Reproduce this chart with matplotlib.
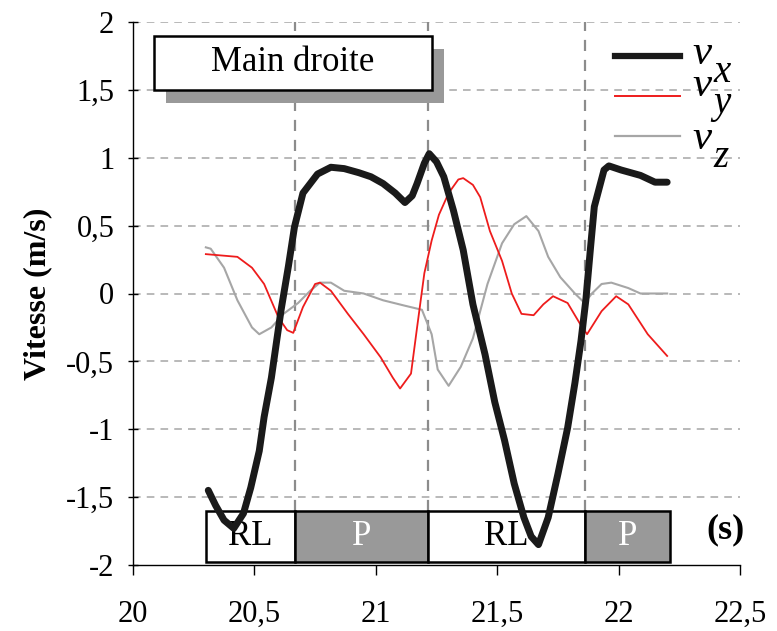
import matplotlib
matplotlib.use("Agg")
import matplotlib.pyplot as plt
from matplotlib.patches import Rectangle

plt.rcParams.update({
    "font.family": ["Liberation Serif", "DejaVu Serif"],
    "font.size": 22,
})

# ---- data ----
vx_t = [20.31, 20.34, 20.375, 20.415, 20.455, 20.485, 20.52, 20.54, 20.57, 20.59,
        20.61, 20.64, 20.665, 20.70, 20.76, 20.815, 20.87, 20.93, 20.98, 21.03,
        21.08, 21.12, 21.15, 21.17, 21.20, 21.22, 21.25, 21.28, 21.32, 21.36,
        21.40, 21.45, 21.49, 21.53, 21.57, 21.61, 21.64, 21.67, 21.71, 21.75,
        21.79, 21.82, 21.845, 21.865, 21.885, 21.90, 21.94, 21.96, 22.01, 22.09,
        22.15, 22.20]
vx = [-1.45, -1.56, -1.67, -1.73, -1.62, -1.43, -1.16, -0.91, -0.62, -0.37,
      -0.12, 0.20, 0.49, 0.74, 0.88, 0.93, 0.92, 0.89, 0.86, 0.81,
      0.74, 0.67, 0.72, 0.81, 0.96, 1.03, 0.97, 0.86, 0.61, 0.32,
      -0.08, -0.45, -0.80, -1.08, -1.40, -1.65, -1.79, -1.85, -1.65, -1.33,
      -0.99, -0.66, -0.35, -0.05, 0.35, 0.64, 0.91, 0.94, 0.91, 0.87,
      0.82, 0.82]

vy_t = [20.30, 20.43, 20.49, 20.54, 20.60, 20.635, 20.66, 20.70, 20.75, 20.77,
        20.815, 20.885, 20.95, 21.02, 21.07, 21.10, 21.145, 21.17, 21.20, 21.23,
        21.26, 21.30, 21.34, 21.36, 21.40, 21.43, 21.47, 21.52, 21.56, 21.60,
        21.65, 21.69, 21.73, 21.79, 21.84, 21.87, 21.93, 21.99, 22.04, 22.12,
        22.20]
vy = [0.29, 0.27, 0.19, 0.07, -0.18, -0.27, -0.29, -0.10, 0.07, 0.08,
      0.02, -0.15, -0.30, -0.47, -0.62, -0.70, -0.59, -0.25, 0.15, 0.39,
      0.58, 0.74, 0.84, 0.85, 0.80, 0.71, 0.46, 0.24, 0.00, -0.15,
      -0.16, -0.08, -0.02, -0.07, -0.22, -0.30, -0.13, -0.02, -0.08, -0.30,
      -0.46]

vz_t = [20.30, 20.32, 20.375, 20.43, 20.49, 20.52, 20.57, 20.62, 20.68, 20.73,
        20.77, 20.815, 20.87, 20.95, 21.03, 21.12, 21.19, 21.23, 21.255, 21.30,
        21.35, 21.40, 21.46, 21.52, 21.57, 21.62, 21.67, 21.71, 21.76, 21.82,
        21.86, 21.89, 21.93, 21.97, 22.04, 22.09, 22.20]
vz = [0.34, 0.33, 0.19, -0.05, -0.25, -0.30, -0.25, -0.15, -0.07, 0.02,
      0.08, 0.08, 0.02, 0.00, -0.05, -0.09, -0.12, -0.30, -0.56, -0.68,
      -0.54, -0.33, 0.07, 0.37, 0.51, 0.57, 0.46, 0.27, 0.12, 0.00,
      -0.07, 0.00, 0.07, 0.08, 0.04, 0.00, 0.00]

phase_edges = [20.30, 20.667, 21.215, 21.862, 22.212]
phase_labels = ["RL", "P", "RL", "P"]

yticks = [-2, -1.5, -1, -0.5, 0, 0.5, 1, 1.5, 2]
xticks = [20, 20.5, 21, 21.5, 22, 22.5]


def fr(v):
    # French decimal comma
    return ("%g" % v).replace(".", ",")


W, H = 777, 631
fig = plt.figure(figsize=(W / 100, H / 100), dpi=100)
ax = fig.add_axes([133 / W, 1 - 565 / H, (740 - 133) / W, (565 - 22) / H])

ax.set_xlim(20, 22.5)
ax.set_ylim(-2, 2)
for s in ("top", "right"):
    ax.spines[s].set_visible(False)
ax.spines["left"].set_linewidth(1.0)
ax.spines["bottom"].set_linewidth(1.0)

ax.set_yticks(yticks)
ax.set_yticklabels([fr(v) for v in yticks])
ax.set_xticks(xticks)
ax.set_xticklabels([fr(v) for v in xticks])
ax.tick_params(axis="y", direction="inout", length=7, width=1, pad=10, labelsize=22)
ax.tick_params(axis="x", direction="out", length=7, width=1, pad=18, labelsize=22)
ax.set_ylabel("Vitesse (m/s)", fontweight="bold", fontsize=23, labelpad=10)

# grid
dash = (0, (5, 4))
for yv in yticks[1:]:
    ax.axhline(yv, color="#a6a6a6", lw=1.1, ls=dash, zorder=1)
for xv in phase_edges[1:-1]:
    ax.plot([xv, xv], [-1.6, 2], color="#8c8c8c", lw=1.6, ls=dash, zorder=1)

# phase bar
for i, lab in enumerate(phase_labels):
    x0, x1 = phase_edges[i], phase_edges[i + 1]
    fc = "white" if lab == "RL" else "#999999"
    tc = "black" if lab == "RL" else "white"
    ax.add_patch(Rectangle((x0, -1.975), x1 - x0, 0.375, facecolor=fc,
                           edgecolor="black", lw=1.8, zorder=3))
    ax.text((x0 + x1) / 2, -1.79, lab, color=tc, fontsize=25,
            ha="center", va="center", zorder=4)
ax.text(22.44, -1.74, "(s)", fontsize=26, fontweight="bold",
        ha="center", va="center")

# title box with shadow
ax.add_patch(Rectangle((20.136, 1.40), 1.145, 0.40, facecolor="#999999",
                       edgecolor="none", zorder=3))
ax.add_patch(Rectangle((20.086, 1.496), 1.145, 0.40, facecolor="white",
                       edgecolor="black", lw=1.8, zorder=4))
ax.text(20.658, 1.70, "Main droite", fontsize=25, ha="center", va="center",
        zorder=5)

# curves
ax.plot(vz_t, vz, color="#a6a6a6", lw=1.5, zorder=5)
ax.plot(vy_t, vy, color="#ee1c1c", lw=1.3, zorder=6)
ax.plot(vx_t, vx, color="#1a1a1a", lw=5, solid_capstyle="round",
        solid_joinstyle="round", zorder=7)

# legend drawn by hand: (colour, width, line y px, v baseline px, subscript baseline px, subscript)
leg = [("#1a1a1a", 4.5, 56, 64, 82, "x"),
       ("#ee1c1c", 1.4, 96, 96, 113, "y"),
       ("#a6a6a6", 1.6, 136, 149, 167, "z")]
for col, lw, py, vb, sb, sub in leg:
    fig.add_artist(plt.Line2D([615 / W, 680 / W], [1 - py / H, 1 - py / H],
                              color=col, lw=lw))
    fig.text(692 / W, 1 - vb / H, "v", fontsize=31, style="italic",
             ha="left", va="baseline")
    fig.text(713 / W, 1 - sb / H, sub, fontsize=28, style="italic",
             ha="left", va="baseline")

fig.savefig("out.png", dpi=100)
